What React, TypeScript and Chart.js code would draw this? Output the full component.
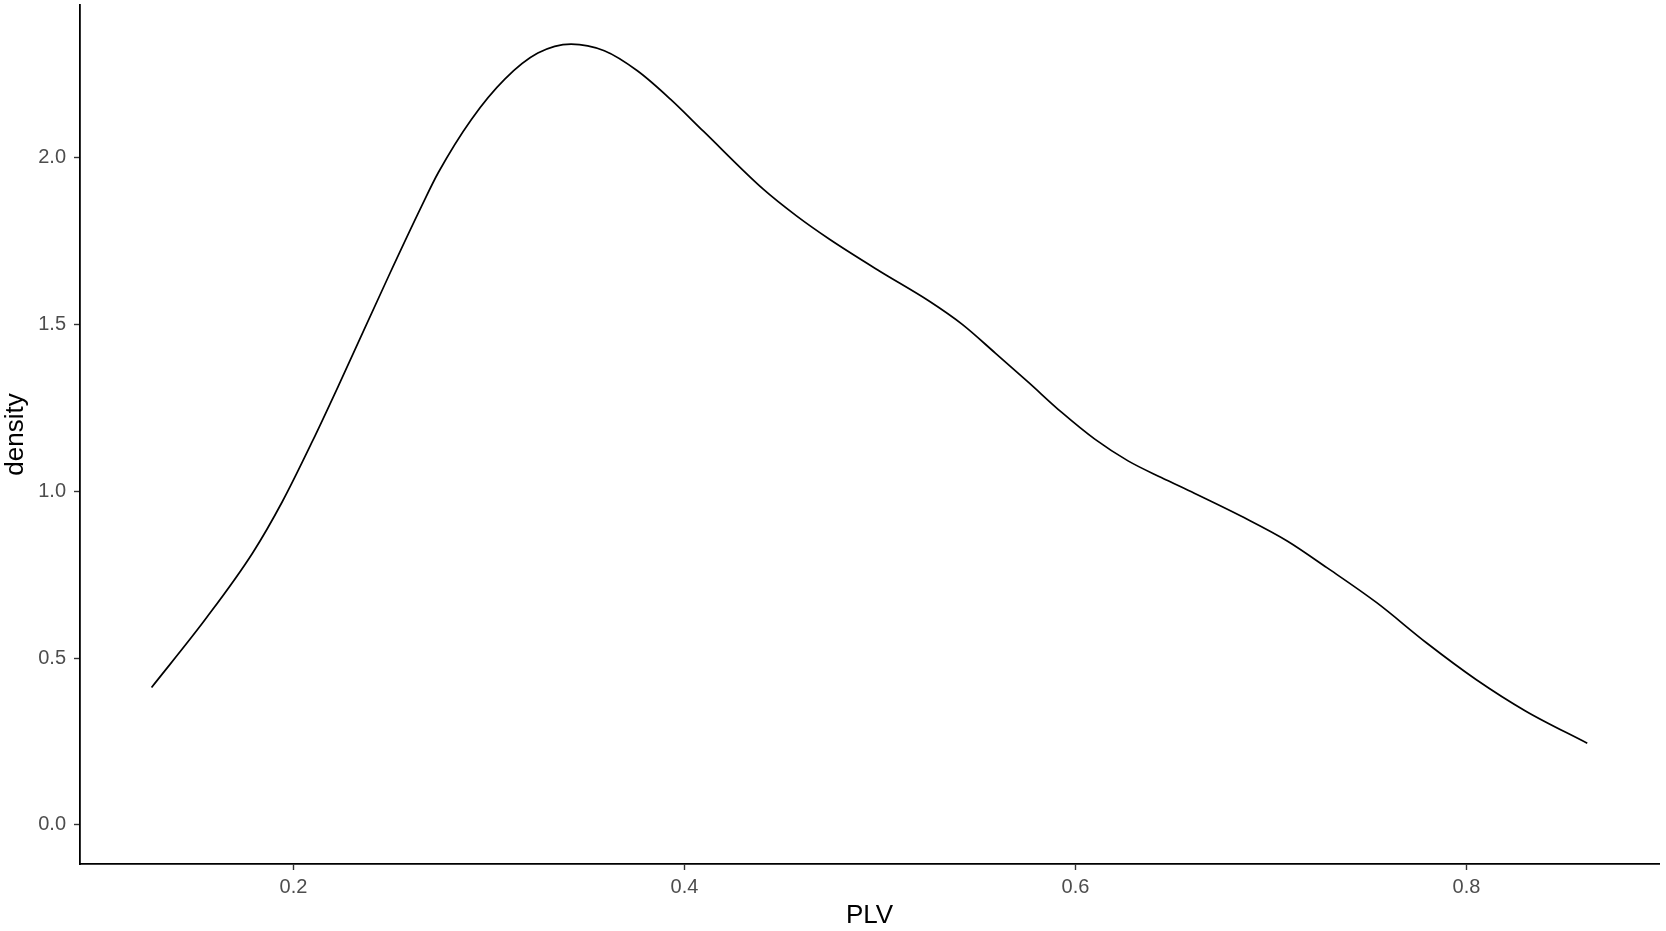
import React, { useEffect, useRef } from "react";
import { Chart, registerables } from "chart.js";

Chart.register(...registerables);

const plvValues = [
  0.1274, 0.1554, 0.1791, 0.1944, 0.2097, 0.2241, 0.2487, 0.2656,
  0.2741, 0.2911, 0.3081, 0.325, 0.342, 0.359, 0.3759, 0.3928, 0.4098,
  0.4403, 0.4573, 0.4742, 0.4997, 0.5251, 0.5421, 0.559, 0.576, 0.593, 0.6099,
  0.6269, 0.6439, 0.6608, 0.6862, 0.7083, 0.7286, 0.7541, 0.7795, 0.8049, 0.8304,
  0.8618,
];
const densityValues = [
  0.412, 0.62, 0.815, 0.97, 1.15, 1.33, 1.645, 1.855,
  1.955, 2.115, 2.235, 2.313, 2.34, 2.32, 2.26, 2.175, 2.078,
  1.905, 1.825, 1.755, 1.66, 1.57, 1.5, 1.414, 1.326, 1.236, 1.156,
  1.091, 1.041, 0.994, 0.921, 0.851, 0.771, 0.666, 0.546, 0.436, 0.341,
  0.245,
];
const xTicks = [0.2, 0.4, 0.6, 0.8];
const yTicks = [0.0, 0.5, 1.0, 1.5, 2.0];
const xTitle = "PLV";
const yTitle = "density";

export default function App() {
  const ref = useRef<HTMLCanvasElement | null>(null);
  useEffect(() => {
    if (!ref.current) return;
    const points = plvValues.map((x, i) => ({ x, y: densityValues[i] }));
    const tickFont = { family: "'Liberation Sans', Arial, sans-serif", size: 20 };
    const titleFont = { family: "'Liberation Sans', Arial, sans-serif", size: 26 };
    const chart = new Chart(ref.current, {
      type: "line",
      data: {
        datasets: [
          {
            data: points,
            borderColor: "#000000",
            borderWidth: 1.7,
            pointRadius: 0,
            fill: false,
            cubicInterpolationMode: "monotone",
          },
        ],
      },
      options: {
        animation: false,
        responsive: false,
        maintainAspectRatio: false,
        layout: { padding: { top: 5, right: 7, left: 0, bottom: 0 } },
        plugins: { legend: { display: false }, tooltip: { enabled: false } },
        scales: {
          x: {
            type: "linear",
            min: 0.0908,
            max: 0.8985,
            afterBuildTicks: (scale: any) => {
              scale.ticks = xTicks.map((v) => ({ value: v }));
            },
            afterFit: (scale: any) => {
              scale.height = 67;
              scale.paddingLeft = 0;
              scale.paddingRight = 0;
            },
            ticks: {
              callback: (v: any) => Number(v).toFixed(1),
              color: "#4D4D4D",
              font: tickFont,
              padding: 5,
              maxRotation: 0,
            },
            grid: {
              drawOnChartArea: false,
              drawTicks: true,
              tickLength: 6,
              tickWidth: 1.4,
              tickColor: "#333333",
            },
            border: { display: true, color: "#000000", width: 1.8 },
            title: {
              display: true,
              text: xTitle,
              color: "#000000",
              font: titleFont,
              padding: { top: 0, bottom: 0 },
            },
          },
          y: {
            type: "linear",
            min: -0.117,
            max: 2.457,
            afterBuildTicks: (scale: any) => {
              scale.ticks = yTicks.map((v) => ({ value: v }));
            },
            afterFit: (scale: any) => {
              scale.width = 80;
              scale.paddingTop = 0;
              scale.paddingBottom = 0;
            },
            ticks: {
              callback: (v: any) => Number(v).toFixed(1),
              color: "#4D4D4D",
              font: tickFont,
              padding: 8,
            },
            grid: {
              drawOnChartArea: false,
              drawTicks: true,
              tickLength: 6,
              tickWidth: 1.4,
              tickColor: "#333333",
            },
            border: { display: true, color: "#000000", width: 1.8 },
            title: {
              display: true,
              text: yTitle,
              color: "#000000",
              font: titleFont,
              padding: { top: 0, bottom: 0 },
            },
          },
        },
      },
    });
    return () => chart.destroy();
  }, []);
  return (
    <div style={{ position: "absolute", left: 0, top: 0, width: 1666, height: 931, background: "#ffffff" }}>
      <canvas ref={ref} width={1666} height={931} style={{ width: 1666, height: 931, display: "block" }} />
    </div>
  );
}
